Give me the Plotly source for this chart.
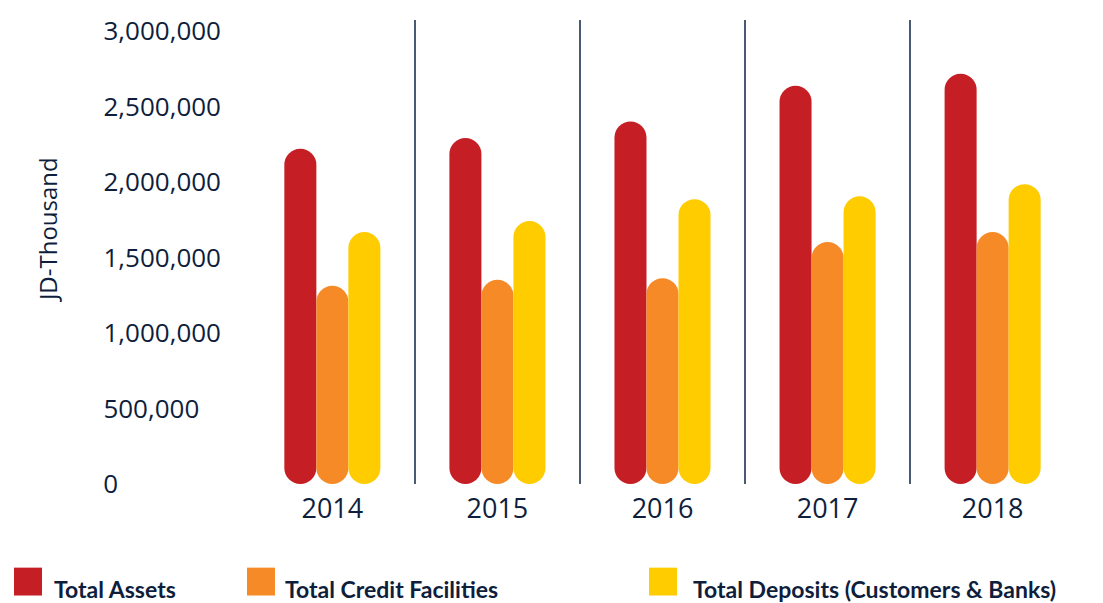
import plotly.graph_objects as go

# ---------------- data ----------------
years = ["2014", "2015", "2016", "2017", "2018"]
total_assets = [2220000, 2290000, 2400000, 2637000, 2716000]
total_credit_facilities = [1312000, 1352000, 1363000, 1602000, 1668000]
total_deposits = [1668000, 1741000, 1886000, 1905000, 1985000]

series_names = ["Total Assets", "Total Credit Facilities", "Total Deposits (Customers & Banks)"]
series_values = [total_assets, total_credit_facilities, total_deposits]
series_colors = ["#C51E24", "#F68A27", "#FFCC00"]

y_tick_values = [0, 500000, 1000000, 1500000, 2000000, 2500000, 3000000]
y_tick_labels = ["0", "500,000", "1,000,000", "1,500,000", "2,000,000", "2,500,000", "3,000,000"]
y_axis_title = "JD-Thousand"

# ---------------- layout constants ----------------
W, H = 1103, 603
L, R, T, B = 250, 28, 18, 119
PW, PH = W - L - R, H - T - B
NAVY = "#0E1E3C"
TICK_FONT = "Open Sans, Noto Sans, sans-serif"
LEGEND_FONT = "Lato, Roboto, sans-serif"


def px_x(px):
    return (px - L) / PW


def px_y(py):
    return (T + PH - py) / PH


def pad_left_aligned(label, ref):
    # append figure / punctuation spaces so labels appear left aligned
    missing = ref[: len(ref) - len(label)]
    return label + "".join("\u2007" if c.isdigit() else "\u2008" for c in missing)


longest = max(y_tick_labels, key=len)
y_tick_text = [pad_left_aligned(t, longest) for t in y_tick_labels]

fig = go.Figure()
for name, vals, col in zip(series_names, series_values, series_colors):
    # explicit base -> both ends of the bar get rounded
    fig.add_trace(go.Bar(
        x=years, y=vals, base=[0] * len(vals),
        name=name, marker=dict(color=col, line=dict(width=0)),
        showlegend=False,
        hovertemplate="%{x}<br>" + name + ": %{y:,}<extra></extra>",
    ))

# custom legend (large square keys)
legend_square_x = [14, 247, 649]
legend_text_x = [52, 283, 691]
sq = 28
sq_top = 568
text_mid = 589
for name, col, sx, tx in zip(series_names, series_colors, legend_square_x, legend_text_x):
    fig.add_shape(type="rect", xref="paper", yref="paper",
                  x0=px_x(sx), x1=px_x(sx + sq), y0=px_y(sq_top + sq), y1=px_y(sq_top),
                  fillcolor=col, line=dict(width=0), layer="above")
    fig.add_annotation(xref="paper", yref="paper", x=px_x(tx), y=px_y(text_mid),
                       xanchor="left", yanchor="middle", showarrow=False, text=name,
                       font=dict(family=LEGEND_FONT, size=23, color=NAVY, weight=700))

fig.add_annotation(xref="paper", yref="paper", x=px_x(47), y=px_y(229),
                   xanchor="center", yanchor="middle", showarrow=False, textangle=-90,
                   text=y_axis_title, font=dict(family=TICK_FONT, size=24, color=NAVY))

fig.update_layout(
    width=W, height=H,
    margin=dict(l=L, r=R, t=T, b=B, pad=0),
    paper_bgcolor="white", plot_bgcolor="white",
    barmode="group", bargap=0.418, bargroupgap=0,
    barcornerradius="50%",
    showlegend=False,
    font=dict(family=TICK_FONT, color=NAVY),
)
fig.update_xaxes(
    type="category", range=[-0.499, 4.499],
    tickson="boundaries", ticks="", showgrid=True, gridcolor="#4A5A74", gridwidth=1.5,
    showline=False, zeroline=False, ticklabelstandoff=6,
    tickfont=dict(family=TICK_FONT, size=27, color=NAVY),
)
fig.update_yaxes(
    range=[0, 3072000], tickvals=y_tick_values, ticktext=y_tick_text,
    showgrid=False, zeroline=False, showline=False, ticks="",
    ticklabelstandoff=28,
    tickfont=dict(family=TICK_FONT, size=26, color=NAVY),
)

fig.write_html(
    "out.html",
    config={"displayModeBar": False},
    post_script="document.body.style.margin='0';document.body.style.overflow='hidden';",
)
